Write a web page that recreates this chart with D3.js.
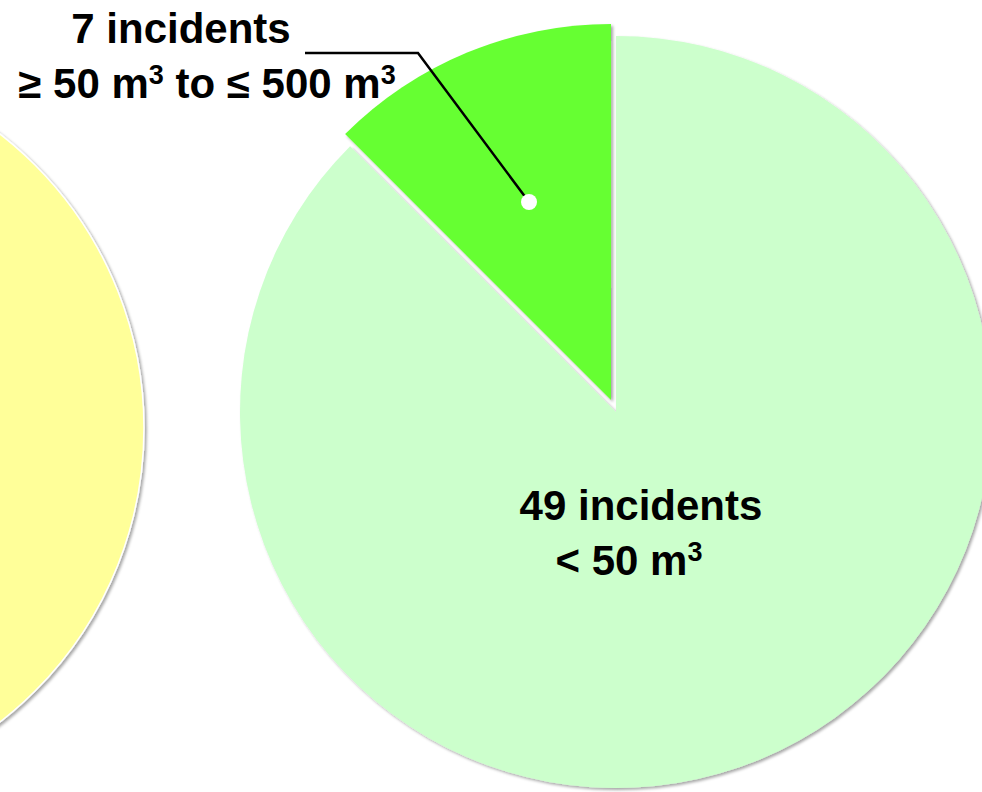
<!DOCTYPE html>
<html lang="en">
<head>
<meta charset="UTF-8">
<title>Incidents by volume</title>
<style>
  body { margin: 0; background: #fff; }
  svg { display: block; font-family: "Liberation Sans", Arial, sans-serif; }
</style>
</head>
<body>
<script src="https://cdn.jsdelivr.net/npm/d3@7/dist/d3.min.js"></script>
<script>
// data
var categories = ['< 50 m³', '≥ 50 m³ to ≤ 500 m³'];
var incidents = [49, 7];
var colors = ['#CCFFCC', '#66FF33'];
var explode = [0, 13];
// left pie (only its right edge shows in the picture)
var leftValues = [1];
var leftColors = ['#FFFF99'];

var W = 982, H = 792;
var R = 376;

var svg = d3.select('body').append('svg').attr('width', W).attr('height', H);

// soft drop shadow like the original
var defs = svg.append('defs');
defs.append('filter').attr('id', 'shadow')
    .attr('x', '-10%').attr('y', '-10%').attr('width', '120%').attr('height', '120%')
  .append('feDropShadow')
    .attr('dx', 2).attr('dy', 2).attr('stdDeviation', 1.8)
    .attr('flood-color', '#000').attr('flood-opacity', 0.35);

var arc = d3.arc().innerRadius(0).outerRadius(R);
var labelArc = d3.arc().innerRadius(R * 0.57).outerRadius(R * 0.57);

// left yellow pie
var gLeft = svg.append('g').attr('transform', 'translate(-228,428)');
gLeft.selectAll('path')
  .data(d3.pie().sort(null)(leftValues))
  .join('path')
  .attr('d', d3.arc().innerRadius(0).outerRadius(372))
  .attr('fill', function (d, i) { return leftColors[i]; })
  .attr('stroke', '#fff').attr('stroke-width', 1.5)
  .attr('filter', 'url(#shadow)');

// main pie
var pie = d3.pie().sort(null);
var arcs = pie(incidents);
var g = svg.append('g').attr('transform', 'translate(616,412)');

function offset(d, i) {
  var a = (d.startAngle + d.endAngle) / 2;
  return [Math.sin(a) * explode[i], -Math.cos(a) * explode[i]];
}

g.selectAll('path.slice')
  .data(arcs)
  .join('path')
  .attr('class', 'slice')
  .attr('transform', function (d, i) { var o = offset(d, i); return 'translate(' + o[0] + ',' + o[1] + ')'; })
  .attr('d', arc)
  .attr('fill', function (d, i) { return colors[i]; })
  .attr('filter', 'url(#shadow)');

// leader line for the small slice
var small = arcs[1];
var so = offset(small, 1);
var c = labelArc.centroid(small);
var dot = [616 + c[0] + so[0], 412 + c[1] + so[1]];
svg.append('polyline')
  .attr('points', [dot, [418, 53], [305, 53]].map(function (p) { return p.join(','); }).join(' '))
  .attr('fill', 'none').attr('stroke', '#000').attr('stroke-width', 2.5);
svg.append('circle')
  .attr('cx', dot[0]).attr('cy', dot[1]).attr('r', 8).attr('fill', '#fff');

// labels
function addLabel(x, y, count, range) {
  var t = svg.append('text').attr('text-anchor', 'middle')
    .attr('font-weight', 'bold').attr('font-size', 42).attr('fill', '#000');
  t.append('tspan').attr('x', x[0]).attr('y', y[0]).text(count + ' incidents');
  var l2 = t.append('tspan').attr('x', x[1]).attr('y', y[1]);
  // split m³ into m + raised 3
  var parts = range.split('³');
  var raised = false;
  parts.forEach(function (p, k) {
    if (p.length) {
      var s = l2.append('tspan').text(p);
      if (raised) { s.attr('dy', 14); raised = false; }
    }
    if (k < parts.length - 1) {
      l2.append('tspan').attr('font-size', 27).attr('dy', -14).text('3');
      raised = true;
    }
  });
}

addLabel([181, 207], [43, 98], incidents[1], categories[1]);
addLabel([641, 629], [520, 575], incidents[0], categories[0]);
</script>
</body>
</html>
